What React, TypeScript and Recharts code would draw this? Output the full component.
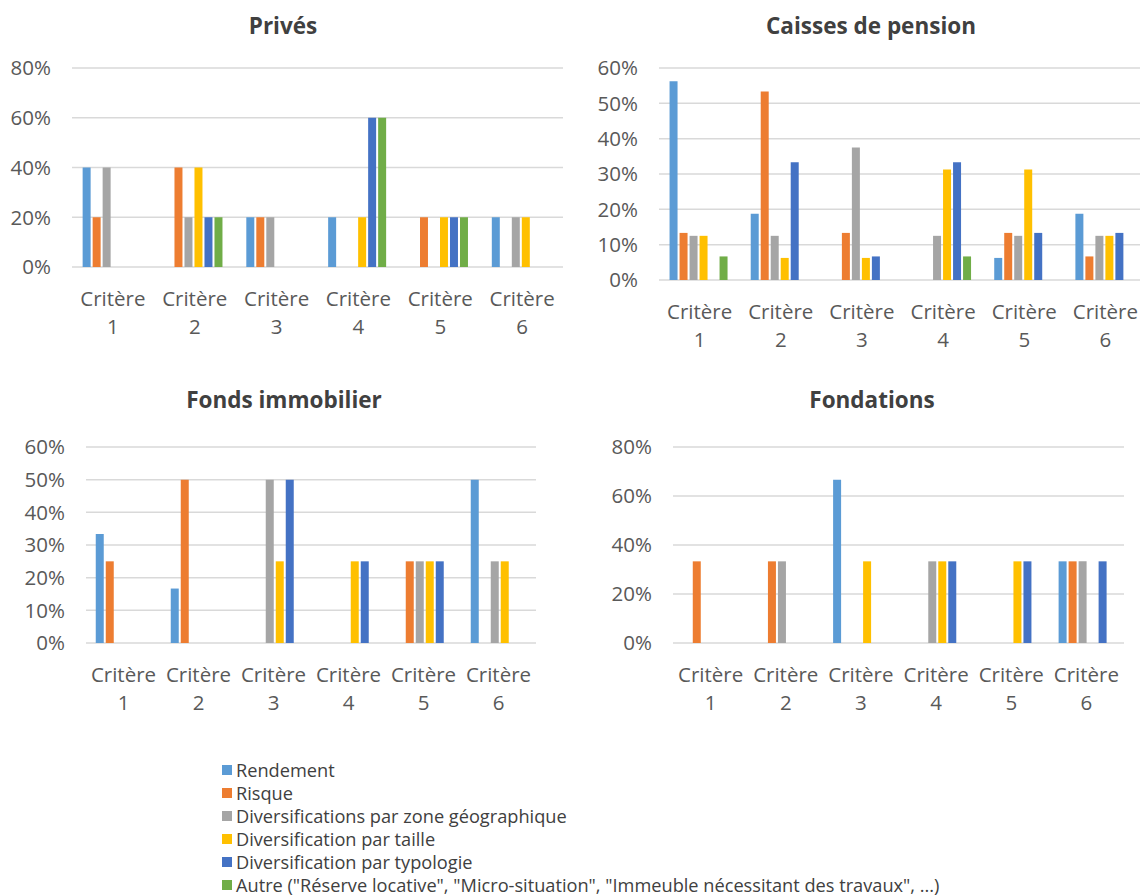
import { BarChart, Bar, XAxis, YAxis, CartesianGrid } from "recharts";

const FONT = "'Open Sans', 'Noto Sans', sans-serif";
const TICK_COLOR = "#595959";
const TITLE_COLOR = "#404040";

const criteres = ["Critère 1", "Critère 2", "Critère 3", "Critère 4", "Critère 5", "Critère 6"];

const seriesNames = [
  "Rendement",
  "Risque",
  "Diversifications par zone géographique",
  "Diversification par taille",
  "Diversification par typologie",
  'Autre ("Réserve locative", "Micro-situation", "Immeuble nécessitant des travaux", ...)',
];
const seriesColors = ["#5B9BD5", "#ED7D31", "#A5A5A5", "#FFC000", "#4472C4", "#70AD47"];

// one row per critère, one column per series (in %)
const privesValues = [
  [40, 20, 40, 0, 0, 0],
  [0, 40, 20, 40, 20, 20],
  [20, 20, 20, 0, 0, 0],
  [20, 0, 0, 20, 60, 60],
  [0, 20, 0, 20, 20, 20],
  [20, 0, 20, 20, 0, 0],
];
const caissesValues = [
  [56.25, 13.33, 12.5, 12.5, 0, 6.67],
  [18.75, 53.33, 12.5, 6.25, 33.33, 0],
  [0, 13.33, 37.5, 6.25, 6.67, 0],
  [0, 0, 12.5, 31.25, 33.33, 6.67],
  [6.25, 13.33, 12.5, 31.25, 13.33, 0],
  [18.75, 6.67, 12.5, 12.5, 13.33, 0],
];
const fondsValues = [
  [33.33, 25, 0, 0, 0, 0],
  [16.67, 50, 0, 0, 0, 0],
  [0, 0, 50, 25, 50, 0],
  [0, 0, 0, 25, 25, 0],
  [0, 25, 25, 25, 25, 0],
  [50, 0, 25, 25, 0, 0],
];
const fondationsValues = [
  [0, 33.33, 0, 0, 0, 0],
  [0, 33.33, 33.33, 0, 0, 0],
  [66.67, 0, 0, 33.33, 0, 0],
  [0, 0, 33.33, 33.33, 33.33, 0],
  [0, 0, 0, 33.33, 33.33, 0],
  [33.33, 33.33, 33.33, 0, 33.33, 0],
];

const ticks80 = [0, 20, 40, 60, 80];
const ticks60 = [0, 10, 20, 30, 40, 50, 60];

function toRows(values: number[][]) {
  return criteres.map((name, i) => {
    const row: Record<string, string | number> = { name };
    values[i].forEach((v, j) => {
      row[`s${j}`] = v;
    });
    return row;
  });
}

function CritereTick(props: any) {
  const { x, y, payload } = props;
  const parts = String(payload.value).split(" ");
  return (
    <g transform={`translate(${x},${y})`}>
      <text textAnchor="middle" fill={TICK_COLOR} fontSize={20.5} fontFamily={FONT}>
        <tspan x={0} y={39}>{parts[0]}</tspan>
        <tspan x={0} y={67}>{parts[1]}</tspan>
      </text>
    </g>
  );
}

interface PanelProps {
  title: string;
  titleX: number;
  titleY: number;
  values: number[][];
  ticks: number[];
  left: number;
  top: number;
  width: number;
  height: number;
  axisWidth: number;
  marginTop: number;
  marginRight: number;
}

function Panel(p: PanelProps) {
  return (
    <>
      <div
        style={{
          position: "absolute",
          left: p.titleX - 200,
          top: p.titleY - 15,
          width: 400,
          height: 30,
          lineHeight: "30px",
          textAlign: "center",
          fontFamily: FONT,
          fontWeight: 700,
          fontSize: 22.5,
          color: TITLE_COLOR,
        }}
      >
        {p.title}
      </div>
      <div style={{ position: "absolute", left: p.left, top: p.top }}>
        <BarChart
          width={p.width}
          height={p.height}
          data={toRows(p.values)}
          margin={{ top: p.marginTop, right: p.marginRight, bottom: 0, left: 0 }}
          barCategoryGap="13%"
          barGap={2}
        >
          <CartesianGrid vertical={false} stroke="#D9D9D9" strokeWidth={1.5} />
          <XAxis
            dataKey="name"
            axisLine={false}
            tickLine={false}
            tickSize={0}
            tickMargin={0}
            interval={0}
            height={80}
            tick={<CritereTick />}
          />
          <YAxis
            domain={[0, p.ticks[p.ticks.length - 1]]}
            ticks={p.ticks}
            width={p.axisWidth}
            axisLine={false}
            tickLine={false}
            tickSize={0}
            tickMargin={21}
            tickFormatter={(v) => `${v}%`}
            tick={{ fill: TICK_COLOR, fontSize: 20.5, fontFamily: FONT }}
          />
          {seriesNames.map((name, j) => (
            <Bar key={name} dataKey={`s${j}`} name={name} fill={seriesColors[j]} isAnimationActive={false} />
          ))}
        </BarChart>
      </div>
    </>
  );
}

export default function App() {
  return (
    <div
      style={{
        position: "absolute",
        left: 0,
        top: 0,
        width: 1140,
        height: 895,
        overflow: "hidden",
        background: "#fff",
      }}
    >
      <Panel
        title="Privés"
        titleX={283}
        titleY={26}
        values={privesValues}
        ticks={ticks80}
        left={0}
        top={40}
        width={570}
        height={307}
        axisWidth={72}
        marginTop={28}
        marginRight={7}
      />
      <Panel
        title="Caisses de pension"
        titleX={871}
        titleY={26}
        values={caissesValues}
        ticks={ticks60}
        left={570}
        top={40}
        width={581}
        height={320}
        axisWidth={89}
        marginTop={28}
        marginRight={5}
      />
      <Panel
        title="Fonds immobilier"
        titleX={284}
        titleY={400}
        values={fondsValues}
        ticks={ticks60}
        left={0}
        top={420}
        width={540}
        height={303}
        axisWidth={86}
        marginTop={27}
        marginRight={4}
      />
      <Panel
        title="Fondations"
        titleX={872}
        titleY={400}
        values={fondationsValues}
        ticks={ticks80}
        left={570}
        top={420}
        width={560}
        height={303}
        axisWidth={103}
        marginTop={27}
        marginRight={6}
      />
      {/* legend */}
      <div style={{ position: "absolute", left: 222, top: 758, fontFamily: FONT, fontSize: 18.2, color: TITLE_COLOR }}>
        {seriesNames.map((name, j) => (
          <div key={name} style={{ display: "flex", alignItems: "center", height: 23, whiteSpace: "nowrap" }}>
            <span
              style={{ display: "inline-block", width: 10, height: 10, background: seriesColors[j], marginRight: 4 }}
            />
            {name}
          </div>
        ))}
      </div>
    </div>
  );
}
